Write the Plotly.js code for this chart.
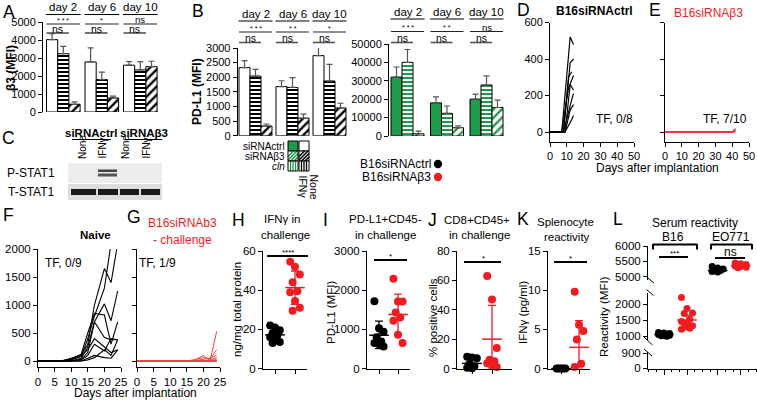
<!DOCTYPE html>
<html><head><meta charset="utf-8">
<script src="https://cdn.plot.ly/plotly-3.0.1.min.js"></script>
<style>html,body{margin:0;padding:0;background:#fff}#chart{width:757px;height:400px}</style>
</head><body><div id="chart"></div>
<script>
// ================= DATA =================
const dayLabels = ['day 2', 'day 6', 'day 10'];
// Panel A: beta3 (MFI)
const aNone = [4020, 2780, 2600], aNoneErr = [330, 780, 200];
const aIfn  = [3240, 1800, 2340], aIfnErr  = [410, 420, 460];
const aB3   = [430, 780, 2520],   aB3Err   = [130, 100, 300];
const aSigAll = ['***', '*', 'ns'], aSigPair = ['ns', 'ns', 'ns'];
// Panel B (black): PD-L1 (MFI)
const bNone = [2330, 1680, 2740], bNoneErr = [240, 200, 330];
const bIfn  = [2040, 1650, 1870], bIfnErr  = [230, 340, 570];
const bB3   = [330, 600, 950],    bB3Err   = [70, 140, 160];
const bSigAll = ['***', '**', '*'], bSigPair = ['ns', 'ns', 'ns'];
// Panel B (green)
const gNone = [32000, 18000, 20000], gNoneErr = [5500, 3300, 2800];
const gIfn  = [40000, 12300, 27700], gIfnErr  = [7000, 4000, 5000];
const gB3   = [1200, 4500, 15500],   gB3Err   = [1500, 1000, 4000];
const gSigAll = ['***', '**', 'ns'], gSigPair = ['ns', 'ns', 'ns'];
// Panel D: B16siRNActrl tumour growth
const dDays = [[0,7,12,14],[0,8,12,14],[0,8,11,13],[0,7,11,14],[0,9,12,14],[0,8,13,14],[0,9,12,14],[0,9,13,14]];
const dVol  = [[0,0,520,480],[0,0,380,400],[0,0,300,330],[0,0,240,310],[0,0,260,230],[0,0,180,210],[0,0,120,150],[0,0,70,90]];
// Panel E: B16siRNAb3
const eDays = [[0,40,42],[0,40,42],[0,40,42]];
const eVol  = [[0,0,18],[0,0,8],[0,0,0]];
// Panel F: naive challenge
const fDays = [0, 7, 10, 13, 15, 17, 20, 22, 24];
const fVol = [
  [0,0,20,80,400,800,1300,2100,2500],
  [0,0,30,100,300,1000,1650,1400,2100],
  [0,0,0,50,250,700,1020,720,1250],
  [0,0,40,120,500,850,820,300,700],
  [0,0,0,30,150,700,420,380,380],
  [0,0,50,100,200,400,250,150,200],
  [0,0,0,20,100,300,180,400,380],
  [0,0,0,0,50,100,60,50,200],
  [0,0,0,0,20,60,200,100,380]
];
// Panel G: B16siRNAb3 - challenge
const gDays = [0, 7, 10, 13, 15, 17, 20, 22, 24];
const gVol = [
  [0,0,0,0,0,0,100,0,530],
  [0,0,0,0,0,20,60,40,200],
  [0,0,0,0,0,0,30,50,100],
  [0,0,0,0,0,0,0,20,60],
  [0,0,0,0,0,0,0,0,30],
  [0,0,0,0,0,0,0,0,0],
  [0,0,0,0,0,0,0,0,0],
  [0,0,0,0,0,0,0,0,0],
  [0,0,0,0,0,0,0,0,0]
];
// Panel H: IFNg in challenge (ng/mg total protein)
const hCtrl = [22, 21, 19.5, 18, 17, 16, 15, 13.5, 13];
const hB3   = [54.5, 52, 48, 44, 39.5, 39, 34.5, 31, 29.5];
const hMean = [17.2, 41.3], hErrUp = [3.2, 8.5], hErrDn = [3.2, 8.5];
// Panel I: PD-L1+CD45- in challenge
const iCtrl = [1720, 1030, 940, 800, 690, 650, 620, 560];
const iB3   = [2290, 1710, 1710, 1430, 1300, 1220, 860, 650];
const iMean = [850, 1380], iErrUp = [360, 520], iErrDn = [340, 520];
// Panel J: CD8+CD45+ in challenge
const jCtrl = [8, 7.5, 7, 3, 1.5, 0.5, 0.2];
const jB3   = [63, 47, 14, 6, 5, 3.5, 2, 1];
const jMean = [3.5, 20], jErrUp = [4, 23], jErrDn = [3.5, 20];
// Panel K: splenocyte reactivity IFNg (pg/ml)
const kCtrl = [0, 0, 0, 0, 0];
const kB3   = [9.8, 5.6, 4.8, 3.7, 0.6, 0.2];
const kMean = [0, 2.7], kErrUp = [0, 3.4], kErrDn = [0, 2.7];
// Panel L: serum reactivity (MFI)
const lB16Ctrl = [1110, 1090, 1075, 1065, 1055, 1045, 1035, 1025, 1010, 995];
const lB16B3   = [2200, 1860, 1720, 1700, 1520, 1450, 1400, 1320, 1270, 1240, 1210];
const lEoCtrl  = [5330, 5280, 5250, 5220, 5200, 5170, 5150, 4870];
const lEoB3    = [5450, 5420, 5400, 5390, 5370, 5350, 5330, 5310, 5290];
const lMean = [1050, 1500, 5200, 5360], lErr = [30, 150, 60, 40];

// ================= HELPERS =================
const W = 757, H = 400;
const FONT = 'Liberation Sans, Arial, Helvetica, sans-serif';
const GREEN = '#1f9a4a', RED = '#ee1d23';
const xd = (a, b) => [a / W, b / W];
const yd = (t, b) => [1 - b / H, 1 - t / H];
const xr = (a, b, v, pv, s) => [v + (a - pv) / s, v + (b - pv) / s];
const yr = (t, b, v, pv, s) => [v + (pv - b) / s, v + (pv - t) / s];
const PX = p => p / W, PY = p => 1 - p / H;

const traces = [], shapes = [], ann = [];
function txt(t, x, y, o = {}) {
  ann.push({text: t, x: o.xref ? x : PX(x), y: PY(y), xref: o.xref || 'paper', yref: 'paper',
    showarrow: false, xanchor: o.xa || 'center', yanchor: o.ya || 'middle', textangle: o.angle || 0,
    font: {family: FONT, size: o.size || 11, color: o.color || 'black', weight: o.bold ? 'bold' : 'normal',
           style: o.italic ? 'italic' : 'normal'}});
}
function ln(x0, y0, x1, y1, color = 'black', width = 1, xref) {
  shapes.push({type: 'line', xref: xref || 'paper', yref: 'paper', x0: xref ? x0 : PX(x0), x1: xref ? x1 : PX(x1),
    y0: PY(y0), y1: PY(y1), line: {color, width}});
}
function rect(x0, y0, x1, y1, fill, lineColor, lw = 0) {
  shapes.push({type: 'rect', xref: 'paper', yref: 'paper', x0: PX(x0), x1: PX(x1), y0: PY(y1), y1: PY(y0),
    fillcolor: fill, line: {color: lineColor || fill, width: lw}});
}
function dot(x, y, r, color) {
  shapes.push({type: 'circle', xref: 'paper', yref: 'paper', x0: PX(x - r), x1: PX(x + r), y0: PY(y + r), y1: PY(y - r),
    fillcolor: color, line: {color, width: 0}});
}

// ---------- bar panels ----------
function barSeries(xa, ya, pitchU, sets) {
  sets.forEach(s => {
    traces.push({type: 'bar', xaxis: xa, yaxis: ya, x: s.vals.map((v, g) => g * pitchU + s.j), y: s.vals, width: 1,
      marker: {color: s.color, line: {color: 'black', width: 1}, pattern: s.pattern},
      error_y: {type: 'data', symmetric: false, array: s.err, arrayminus: s.err.map(() => 0),
                color: '#555', thickness: 1.2, width: 3},
      hoverinfo: 'skip', showlegend: false});
  });
}
function sigRows(xref, pitchU, sigAll, sigPair, r) {
  dayLabels.forEach((d, g) => {
    const c = g * pitchU;
    txt(d, c + 1, r.dayT, {xref, size: 11.5});
    ln(c - 0.55, r.dayL, c + 2.55, r.dayL, 'black', 1.2, xref);
    const isNs = sigAll[g] === 'ns';
    txt(isNs ? 'ns' : sigAll[g].split('').join(' '), c + 1, isNs ? r.allL - 4.5 : r.allT, {xref, size: isNs ? 9.5 : 7});
    ln(c - 0.5, r.allL, c + 2.5, r.allL, '#222', 1.2, xref);
    txt(sigPair[g], c + 0.5, r.pairT + 1, {xref, size: 10.5});
    ln(c - 0.5, r.pairL, c + 1.5, r.pairL, '#555', 1.6, xref);
  });
}
const patH = fg => ({shape: '-', fgcolor: fg, bgcolor: 'white', fillmode: 'replace', size: 4, solidity: 0.5});
const patD = fg => ({shape: '/', fgcolor: fg, bgcolor: 'white', fillmode: 'replace', size: 6, solidity: 0.4});

const PA = 38.5 / 11.2, PB = 37 / 11, PG = 39.5 / 11;
barSeries('x', 'y', PA, [
  {vals: aNone, err: aNoneErr, j: 0, color: 'white'},
  {vals: aIfn, err: aIfnErr, j: 1, color: 'white', pattern: patH('black')},
  {vals: aB3, err: aB3Err, j: 2, color: 'white', pattern: patD('black')}]);
barSeries('x2', 'y2', PB, [
  {vals: bNone, err: bNoneErr, j: 0, color: 'white'},
  {vals: bIfn, err: bIfnErr, j: 1, color: 'white', pattern: patH('black')},
  {vals: bB3, err: bB3Err, j: 2, color: 'white', pattern: patD('black')}]);
barSeries('x3', 'y3', PG, [
  {vals: gNone, err: gNoneErr, j: 0, color: GREEN},
  {vals: gIfn, err: gIfnErr, j: 1, color: 'white', pattern: patH(GREEN)},
  {vals: gB3, err: gB3Err, j: 2, color: 'white', pattern: patD(GREEN)}]);
sigRows('x', PA, aSigAll, aSigPair, {dayT: 7, dayL: 14.5, allT: 20, allL: 24, pairT: 28.5, pairL: 33});
sigRows('x2', PB, bSigAll, bSigPair, {dayT: 14, dayL: 21, allT: 28, allL: 32, pairT: 37.5, pairL: 42.5});
sigRows('x3', PG, gSigAll, gSigPair, {dayT: 12, dayL: 19, allT: 27, allL: 31.5, pairT: 37.5, pairL: 42.5});

// ---------- growth curves ----------
dDays.forEach((d, i) => traces.push({type: 'scatter', mode: 'lines', xaxis: 'x4', yaxis: 'y4', x: d, y: dVol[i],
  line: {color: 'black', width: 1.2}, hoverinfo: 'skip', showlegend: false}));
eDays.forEach((d, i) => traces.push({type: 'scatter', mode: 'lines', xaxis: 'x5', yaxis: 'y5', x: d, y: eVol[i],
  line: {color: RED, width: 1.2}, hoverinfo: 'skip', showlegend: false}));
fVol.forEach(v => traces.push({type: 'scatter', mode: 'lines', xaxis: 'x6', yaxis: 'y6', x: fDays, y: v,
  line: {color: 'black', width: 1.1}, hoverinfo: 'skip', showlegend: false}));
gVol.forEach(v => traces.push({type: 'scatter', mode: 'lines', xaxis: 'x7', yaxis: 'y7', x: gDays, y: v,
  line: {color: '#f04040', width: 1}, hoverinfo: 'skip', showlegend: false}));

// ---------- dot plots ----------
const jit = (arr, c, w) => arr.map((v, i) => c + (((i * 7) % 5) - 2) * w);
function dots(xa, ya, ctrl, b3, pos, mean, up, dn, w, size) {
  [[ctrl, 'black', pos[0]], [b3, RED, pos[1]]].forEach(([arr, col, p], k) => {
    traces.push({type: 'scatter', mode: 'markers', xaxis: xa, yaxis: ya, x: jit(arr, p, w), y: arr, cliponaxis: false,
      marker: {color: col, size: size || 8}, hoverinfo: 'skip', showlegend: false});
    traces.push({type: 'scatter', mode: 'markers', xaxis: xa, yaxis: ya, x: [p], y: [mean[k]], cliponaxis: false,
      marker: {symbol: 'line-ew', size: 14, color: col, line: {color: col, width: 1.5}},
      error_y: {type: 'data', symmetric: false, array: [up[k]], arrayminus: [dn[k]], color: col, thickness: 1.3, width: 4},
      hoverinfo: 'skip', showlegend: false});
  });
}
dots('x8', 'y8', hCtrl, hB3, [1, 2], hMean, hErrUp, hErrDn, 0.12);
dots('x9', 'y9', iCtrl, iB3, [1, 2], iMean, iErrUp, iErrDn, 0.12);
dots('x10', 'y10', jCtrl, jB3, [1, 2], jMean, jErrUp, jErrDn, 0.12);
dots('x11', 'y11', kCtrl, kB3, [1, 2], kMean, kErrUp, kErrDn, 0.12);
dots('x12', 'y13', lB16Ctrl, lB16B3, [1, 2], lMean.slice(0, 2), lErr.slice(0, 2), lErr.slice(0, 2), 0.12, 7);
dots('x12', 'y14', lEoCtrl, lEoB3, [10 / 3, 13 / 3], lMean.slice(2), lErr.slice(2), lErr.slice(2), 0.12, 7);
traces.push({type: 'scatter', mode: 'markers', xaxis: 'x12', yaxis: 'y12', x: [], y: [], showlegend: false});

// ================= AXES =================
const base = {showgrid: false, zeroline: false, showline: true, linecolor: 'black', linewidth: 1, ticks: 'outside',
  ticklen: 4, tickwidth: 1, tickcolor: 'black', tickformat: 'd', exponentformat: 'none',
  tickfont: {family: FONT, size: 11, color: 'black'}, fixedrange: true};
const b2 = {...base, tickfont: {family: FONT, size: 11.5, color: 'black'}};
const hid = {visible: false, fixedrange: true};
const row2 = yd(251, 368.5);
const layout = {
  width: W, height: H, margin: {l: 0, r: 0, t: 0, b: 0}, paper_bgcolor: 'white', plot_bgcolor: 'rgba(0,0,0,0)',
  showlegend: false, barmode: 'overlay', font: {family: FONT, color: 'black'},
  xaxis:  {...hid, domain: xd(43, 162), range: xr(43, 162, 0, 46.5 + 5.6, 11.2), anchor: 'y'},
  yaxis:  {...base, domain: yd(22, 112), range: [0, 5000], dtick: 1000, anchor: 'x'},
  xaxis2: {...hid, domain: xd(237.7, 352), range: xr(237.7, 352, 0, 239 + 5.5, 11), anchor: 'y2'},
  yaxis2: {...base, domain: yd(48, 135.7), range: [0, 3000], dtick: 500, anchor: 'x2'},
  xaxis3: {...hid, domain: xd(389, 508), range: xr(389, 508, 0, 391 + 5.5, 11), anchor: 'y3'},
  yaxis3: {...base, domain: yd(44, 136), range: [0, 50000], dtick: 10000, anchor: 'x3'},
  xaxis4: {...base, domain: xd(550, 634), range: [0, 50], dtick: 10, anchor: 'y4'},
  yaxis4: {...base, domain: yd(22.5, 141.7), range: yr(22.5, 141.7, 0, 132, 0.1825), tickvals: [0, 200, 400, 600], anchor: 'x4'},
  xaxis5: {...base, domain: xd(665, 749), range: [0, 50], dtick: 10, anchor: 'y5'},
  yaxis5: {...base, domain: yd(22.5, 141.7), range: yr(22.5, 141.7, 0, 132, 0.1825), tickvals: [0, 200, 400, 600], showticklabels: false, anchor: 'x5'},
  xaxis6: {...b2, domain: xd(38, 121), range: [0, 25], dtick: 5, anchor: 'y6'},
  yaxis6: {...b2, domain: yd(249, 366.7), range: yr(249, 366.7, 0, 361, 0.056), tickvals: [0, 500, 1000, 1500, 2000], anchor: 'x6'},
  xaxis7: {...b2, domain: xd(137, 220), range: [0, 25], dtick: 5, anchor: 'y7'},
  yaxis7: {...b2, domain: yd(249, 366.7), range: yr(249, 366.7, 0, 361, 0.056), tickvals: [0, 500, 1000, 1500, 2000], showticklabels: false, anchor: 'x7'},
  xaxis8: {...b2, domain: xd(263, 307), range: xr(263, 307, 1, 275, 20), tickvals: [1, 2], showticklabels: false, anchor: 'y8'},
  yaxis8: {...b2, domain: row2, range: [0, 60], dtick: 20, anchor: 'x8'},
  xaxis9: {...b2, domain: xd(367, 410), range: xr(367, 410, 1, 379, 19), tickvals: [1, 2], showticklabels: false, anchor: 'y9'},
  yaxis9: {...b2, domain: row2, range: [0, 3000], dtick: 1000, anchor: 'x9'},
  xaxis10: {...b2, domain: xd(457, 512), range: xr(457, 512, 1, 472, 20), tickvals: [1, 2], showticklabels: false, anchor: 'y10'},
  yaxis10: {...b2, domain: row2, range: [0, 80], dtick: 20, anchor: 'x10'},
  xaxis11: {...b2, domain: xd(548, 590), range: xr(548, 590, 1, 561, 18), tickvals: [1, 2], showticklabels: false, anchor: 'y11'},
  yaxis11: {...b2, domain: row2, range: [0, 15], dtick: 5, anchor: 'x11'},
  xaxis12: {...b2, domain: xd(648, 757), range: xr(648, 757, 1, 664, 23), tickvals: [1, 2, 10 / 3, 13 / 3], ticklen: 5,
            showticklabels: false, anchor: 'y12',
            minor: {dtick: 1 / 3, tick0: 0, ticks: 'outside', ticklen: 2.5, tickcolor: 'black', tickwidth: 1}},
  yaxis12: {...b2, domain: yd(352, 368.5), range: yr(352, 368.5, 0, 368, 15 / 900), tickvals: [0, 900], anchor: 'x12'},
  yaxis13: {...b2, domain: yd(293, 340), range: yr(293, 340, 2000, 304, 0.032), tickvals: [1000, 1500, 2000], anchor: 'x12'},
  yaxis14: {...b2, domain: yd(246, 280), range: yr(246, 280, 6000, 246, 0.0307), tickvals: [5000, 5500, 6000], anchor: 'x12'},
};

// ================= DECORATIONS & TEXT =================
// panel letters
[['A', 9, 12], ['B', 198, 11], ['C', 8, 138], ['D', 523, 10.5], ['E', 655, 10.5], ['F', 8, 215],
 ['G', 134, 217], ['H', 238, 220], ['I', 325, 220], ['J', 432, 220], ['K', 523, 219], ['L', 618, 219]]
  .forEach(([t, x, y]) => txt(t, x, y, {size: 17.5}));
// axis titles top row
txt('β3 (MFI)', 11, 68, {angle: -90, size: 12, bold: true});
txt('PD-L1 (MFI)', 197, 92, {angle: -90, size: 12, bold: true});
// panel C (western blot)
txt('siRNActrl', 91, 133, {size: 11.5, bold: true});
ln(72, 139.5, 111, 139.5, 'black', 1);
txt('siRNAβ3', 144, 133, {size: 11.5, bold: true});
ln(126, 139.5, 162, 139.5, 'black', 1);
[['None', 82], ['IFNγ', 102], ['None', 125], ['IFNγ', 146]].forEach(([t, x]) =>
  txt(t, x, 161, {angle: -90, ya: 'bottom', size: 10}));
rect(68, 163, 162, 183, '#ececec');
rect(68, 184, 162, 200, '#dedede');
rect(98, 169.5, 117, 172, '#444');
rect(98, 173.5, 117, 176.5, '#555');
[[71, 96], [98, 118], [120, 139], [141, 160]].forEach(([a, b]) => rect(a, 189, b, 195, '#1a1a1a'));
txt('P-STAT1', 31, 173, {size: 12});
txt('T-STAT1', 31, 192, {size: 12});
// panel B legend
txt('siRNActrl', 287, 146, {xa: 'right', size: 10});
txt('siRNAβ3', 287, 156, {xa: 'right', size: 10});
txt('cln', 287, 166, {xa: 'right', size: 10, italic: true});
function patSquare(x0, y0, s, color, type) {
  if (type === 'solid') rect(x0, y0, x0 + s, y0 + s, color);
  else rect(x0, y0, x0 + s, y0 + s, 'white');
  if (type === 'diag') {
    [-6, -2.5, 1, 4.5].forEach(k => {
      const u0 = Math.max(0, -k), u1 = Math.min(s, s - k);
      ln(x0 + u0, y0 + s - (u0 + k), x0 + u1, y0 + s - (u1 + k), color, 1.6);
    });
  }
  if (type === 'vert') [2.5, 5, 7.5].forEach(u => ln(x0 + u, y0, x0 + u, y0 + s, color, 1.3));
  shapes.push({type: 'rect', xref: 'paper', yref: 'paper', x0: PX(x0), x1: PX(x0 + s), y0: PY(y0 + s), y1: PY(y0),
    fillcolor: 'rgba(0,0,0,0)', line: {color: 'black', width: 1}});
}
patSquare(288, 141, 10, GREEN, 'solid'); patSquare(299, 141, 10, 'black', 'empty');
patSquare(288, 151, 10, GREEN, 'diag');  patSquare(299, 151, 10, 'black', 'diag');
patSquare(288, 161, 10, GREEN, 'vert');  patSquare(299, 161, 10, 'black', 'vert');
txt('IFNγ', 303, 173, {angle: 90, ya: 'top', size: 10.5});
txt('None', 313, 172, {angle: 90, ya: 'top', size: 10.5});
// D/E legend
txt('B16siRNActrl', 433, 164, {xa: 'right', size: 12});
dot(438, 164, 4.2, 'black');
txt('B16siRNAβ3', 433, 177, {xa: 'right', size: 12});
dot(438, 177, 4.2, RED);
// D/E titles
txt('B16siRNActrl', 594, 11, {size: 12, bold: true});
txt('B16siRNAβ3', 708, 13, {size: 12, color: RED});
txt('TF, 0/8', 614, 119, {size: 12});
txt('TF, 7/10', 725, 119, {size: 12});
txt('Days after implantation', 657, 168, {size: 12});
// F/G
txt('Naive', 95, 235, {size: 11.5, bold: true});
txt('TF, 0/9', 63, 263, {size: 12});
txt('B16siRNAb3', 182, 223, {size: 12, color: RED});
txt('- challenge', 182, 240, {size: 12, color: RED});
txt('TF, 1/9', 157, 263, {size: 12});
txt('Days after implantation', 135, 393, {size: 12});
// row 2 titles
txt('IFNγ in', 282, 219, {size: 11.5}); txt('challenge', 285, 235, {size: 11.5});
txt('PD-L1+CD45-', 386, 219, {size: 11.5}); txt('in challenge', 386, 235, {size: 11.5});
txt('CD8+CD45+', 477, 220, {size: 11.5}); txt('in challenge', 479, 235, {size: 11.5});
txt('Splenocyte', 565, 222, {size: 11.5}); txt('reactivity', 567, 237, {size: 11.5});
txt('ng/mg total protein', 237, 310, {angle: -90, size: 11.5});
txt('PD-L1 (MFI)', 331, 313, {angle: -90, size: 11.5});
txt('% positive cells', 433, 318, {angle: -90, size: 11.5});
txt('IFNγ (pg/ml)', 523, 313, {angle: -90, size: 11.5});
txt('Reactivity (MFI)', 604, 317, {angle: -90, size: 11.5});
// significance lines row 2
ln(267, 256, 308, 256, 'black', 2); txt('****', 288, 252, {size: 8});
ln(374, 260, 407, 260, 'black', 2); txt('*', 390, 256, {size: 8});
ln(464, 262, 501, 262, 'black', 2); txt('*', 483, 258, {size: 8});
ln(554, 262, 587, 262, 'black', 2); txt('*', 570, 258, {size: 8});
// panel L header
txt('Serum reactivity', 695, 223, {size: 12});
txt('B16', 673, 237, {size: 12});
txt('EO771', 731, 237, {size: 12});
ln(653, 244.5, 697, 244.5, 'black', 2); ln(653, 244, 653, 249.5, 'black', 2); ln(697, 244, 697, 249.5, 'black', 2);
ln(711, 244.5, 752, 244.5, 'black', 2); ln(711, 244, 711, 249.5, 'black', 2); ln(752, 244, 752, 249.5, 'black', 2);
ln(659, 257, 688, 257, 'black', 2); txt('***', 674, 253.5, {size: 8});
ln(715, 258, 745, 258, 'black', 2); txt('ns', 730, 252, {size: 12});
// axis break marks L
ln(646.5, 277, 654, 283, 'black', 1); ln(646.5, 289.5, 653.5, 295.5, 'black', 1);
ln(644, 337, 652.5, 345, 'black', 1); ln(644, 349, 652, 356, 'black', 1);

layout.shapes = shapes;
layout.annotations = ann;
Plotly.newPlot('chart', traces, layout, {staticPlot: true, displayModeBar: false});
</script>
</body></html>
